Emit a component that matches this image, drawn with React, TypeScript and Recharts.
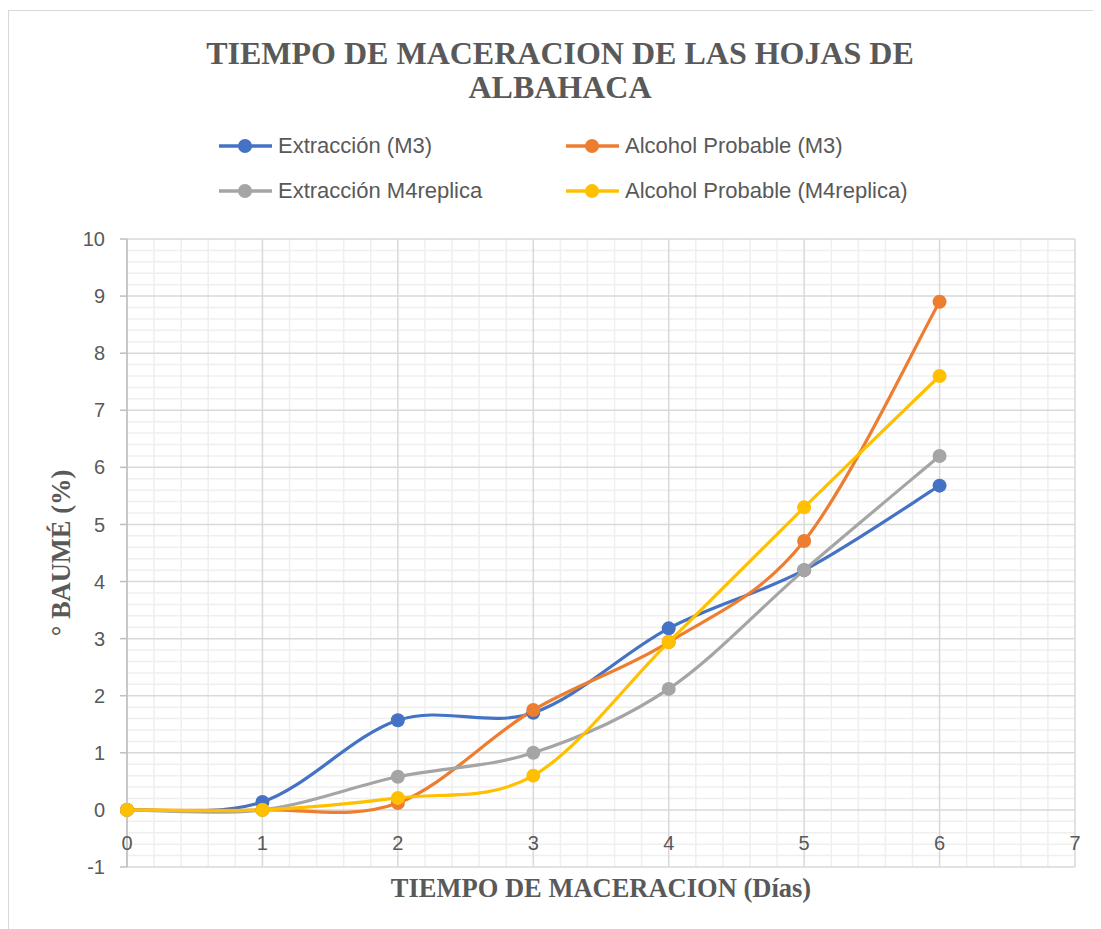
import { LineChart, Line, XAxis, YAxis, CartesianGrid, Legend } from 'recharts';

const dias = [0, 1, 2, 3, 4, 5, 6];
const extraccionM3 = [0, 0.14, 1.57, 1.7, 3.18, 4.2, 5.68];
const alcoholM3 = [0, 0, 0.12, 1.75, 2.94, 4.71, 8.9];
const extraccionM4 = [0, 0, 0.58, 1.0, 2.12, 4.2, 6.2];
const alcoholM4 = [0, 0, 0.21, 0.6, 2.94, 5.3, 7.6];

const xTicks = [0, 1, 2, 3, 4, 5, 6, 7];
const yTicks = [-1, 0, 1, 2, 3, 4, 5, 6, 7, 8, 9, 10];
const xDomain = [0, 7];
const yDomain = [-1, 10];

const series = [
  { key: 'extraccionM3', name: 'Extracción (M3)', color: '#4472C4' },
  { key: 'alcoholM3', name: 'Alcohol Probable (M3)', color: '#ED7D31' },
  { key: 'extraccionM4', name: 'Extracción M4replica', color: '#A5A5A5' },
  { key: 'alcoholM4', name: 'Alcohol Probable (M4replica)', color: '#FFC000' },
];

const data = dias.map((d, i) => ({
  dia: d,
  extraccionM3: extraccionM3[i],
  alcoholM3: alcoholM3[i],
  extraccionM4: extraccionM4[i],
  alcoholM4: alcoholM4[i],
}));

// minor gridlines every 0.2
const minorX: number[] = [];
for (let i = 1; i < 35; i++) if (i % 5 !== 0) minorX.push(i / 5);
const minorY: number[] = [];
for (let i = -4; i < 50; i++) if (i % 5 !== 0) minorY.push(i / 5);

const applyScale = (axis: any, v: number, fallback: () => number) => {
  const s = axis && axis.scale;
  if (typeof s === 'function') return s(v);
  if (s && typeof s.map === 'function') return s.map(v);
  return fallback();
};

// excel-like smoothed line (catmull-rom as bezier)
const excelSmooth = (context: any) => {
  let pts: number[][] = [];
  return {
    areaStart() {},
    areaEnd() {},
    lineStart() {
      pts = [];
    },
    point(x: number, y: number) {
      pts.push([+x, +y]);
    },
    lineEnd() {
      if (!pts.length) return;
      context.moveTo(pts[0][0], pts[0][1]);
      for (let i = 0; i < pts.length - 1; i++) {
        const p0 = pts[Math.max(i - 1, 0)];
        const p1 = pts[i];
        const p2 = pts[i + 1];
        const p3 = pts[Math.min(i + 2, pts.length - 1)];
        context.bezierCurveTo(
          p1[0] + (p2[0] - p0[0]) / 6,
          p1[1] + (p2[1] - p0[1]) / 6,
          p2[0] - (p3[0] - p1[0]) / 6,
          p2[1] - (p3[1] - p1[1]) / 6,
          p2[0],
          p2[1]
        );
      }
    },
  };
};

const sans = '"Liberation Sans", Arial, sans-serif';
const serif = '"Liberation Serif", "Times New Roman", serif';
const textGray = '#595959';

const XTick = (props: any) => (
  <text x={props.x} y={props.y} dy={-25} textAnchor="middle" fill={textGray} fontSize={20} fontFamily={sans}>
    {props.payload.value}
  </text>
);

const renderLegend = () => (
  <div style={{ display: 'grid', gridTemplateColumns: '347px 360px', rowGap: 19, fontFamily: sans, fontSize: 22, color: textGray }}>
    {series.map((s) => (
      <div key={s.key} style={{ display: 'flex', alignItems: 'center', height: 26 }}>
        <svg width={59} height={20} style={{ flexShrink: 0 }}>
          <line x1={0} y1={10} x2={53} y2={10} stroke={s.color} strokeWidth={3.5} />
          <circle cx={26} cy={10} r={7} fill={s.color} />
        </svg>
        <span style={{ whiteSpace: 'nowrap' }}>{s.name}</span>
      </div>
    ))}
  </div>
);

const App = () => {
  return (
    <div style={{ position: 'relative', width: 1093, height: 921, overflow: 'hidden' }}>
      <div style={{ position: 'absolute', left: 0, top: 2, width: 1110, height: 940, border: '1px solid #d9d9d9', boxSizing: 'border-box' }} />
      <div style={{ position: 'absolute', left: 0, top: 28, width: 1104, textAlign: 'center', fontFamily: serif, fontWeight: 'bold', fontSize: 32, lineHeight: '34px', color: textGray }}>
        TIEMPO DE MACERACION DE LAS HOJAS DE
        <br />
        ALBAHACA
      </div>
      <div style={{ position: 'absolute', left: 119, top: 865, width: 948, textAlign: 'center', fontFamily: serif, fontWeight: 'bold', fontSize: 26.5, lineHeight: '30px', color: textGray, whiteSpace: 'nowrap' }}>
        TIEMPO DE MACERACION (Días)
      </div>
      <div style={{ position: 'absolute', left: -97, top: 530, width: 300, height: 30, textAlign: 'center', fontFamily: serif, fontWeight: 'bold', fontSize: 26.5, lineHeight: '30px', color: textGray, transform: 'rotate(-90deg)', whiteSpace: 'nowrap' }}>
        ° BAUMÉ (%)
      </div>
      <div style={{ position: 'absolute', left: 0, top: 0 }}>
        <LineChart width={1093} height={921} data={data} margin={{ top: 231, right: 26, bottom: 32, left: 59 }}>
          <CartesianGrid
            stroke="#efefef"
            strokeWidth={1.5}
            horizontalCoordinatesGenerator={({ yAxis, offset }: any) =>
              minorY.map((v) =>
                applyScale(yAxis, v, () => offset.top + offset.height * (yDomain[1] - v) / (yDomain[1] - yDomain[0]))
              )
            }
            verticalCoordinatesGenerator={({ xAxis, offset }: any) =>
              minorX.map((v) =>
                applyScale(xAxis, v, () => offset.left + offset.width * (v - xDomain[0]) / (xDomain[1] - xDomain[0]))
              )
            }
          />
          <CartesianGrid stroke="#d9d9d9" strokeWidth={1.5} />
          <XAxis
            dataKey="dia"
            type="number"
            domain={xDomain}
            ticks={xTicks}
            interval={0}
            axisLine={false}
            tickLine={false}
            height={30}
            tick={<XTick />}
          />
          <YAxis
            type="number"
            domain={yDomain}
            ticks={yTicks}
            interval={0}
            width={60}
            axisLine={{ stroke: '#bfbfbf', strokeWidth: 1.5 }}
            tickLine={{ stroke: '#bfbfbf', strokeWidth: 1.5 }}
            tickSize={7}
            tickMargin={15}
            tick={{ fill: textGray, fontSize: 20, fontFamily: sans }}
          />
          <Legend
            layout="horizontal"
            verticalAlign="middle"
            align="center"
            wrapperStyle={{ top: 125, left: 211, width: 760, height: 90 }}
            content={renderLegend}
          />
          {series.map((s) => (
            <Line
              key={s.key}
              dataKey={s.key}
              name={s.name}
              type={excelSmooth as any}
              stroke={s.color}
              strokeWidth={3.2}
              dot={{ r: 7, fill: s.color, stroke: s.color, strokeWidth: 0 }}
              activeDot={false}
              isAnimationActive={false}
            />
          ))}
        </LineChart>
      </div>
    </div>
  );
};

export default App;
